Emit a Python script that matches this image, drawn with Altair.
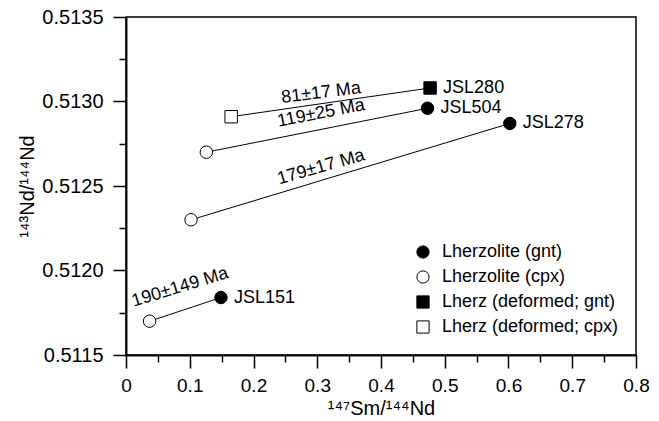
import altair as alt
import pandas as pd

samples = ["JSL280", "JSL504", "JSL278", "JSL151"]
gnt_x = [0.477, 0.473, 0.602, 0.149]
gnt_y = [0.51308, 0.51296, 0.51287, 0.51184]
cpx_x = [0.165, 0.126, 0.102, 0.037]
cpx_y = [0.51291, 0.51270, 0.51230, 0.51170]
gnt_kind = ["Lherz (deformed; gnt)", "Lherzolite (gnt)", "Lherzolite (gnt)", "Lherzolite (gnt)"]
cpx_kind = ["Lherz (deformed; cpx)", "Lherzolite (cpx)", "Lherzolite (cpx)", "Lherzolite (cpx)"]
kinds = ["Lherzolite (gnt)", "Lherzolite (cpx)", "Lherz (deformed; gnt)", "Lherz (deformed; cpx)"]

ages = ["81±17 Ma", "119±25 Ma", "179±17 Ma", "190±149 Ma"]
age_x = [0.306, 0.306, 0.306, 0.085]
age_y = [0.51305, 0.51293, 0.51261, 0.51190]
age_angle = [7, 11, 16, 17]

x_major = [0, 0.1, 0.2, 0.3, 0.4, 0.5, 0.6, 0.7, 0.8]
x_minor = [0.05, 0.15, 0.25, 0.35, 0.45, 0.55, 0.65, 0.75]
y_major = [0.5115, 0.512, 0.5125, 0.513, 0.5135]
y_minor = [0.51175, 0.51225, 0.51275, 0.51325]

FONT = "Liberation Sans"

pts = pd.DataFrame({
    "sample": samples + samples,
    "x": gnt_x + cpx_x,
    "y": gnt_y + cpx_y,
    "kind": gnt_kind + cpx_kind,
})
gnt = pd.DataFrame({"sample": samples, "x": gnt_x, "y": gnt_y})
age_df = pd.DataFrame({"label": ages, "x": age_x, "y": age_y,
                       "rot": [360 - a for a in age_angle]})

xscale = alt.Scale(domain=[0, 0.8], nice=False, zero=False)
yscale = alt.Scale(domain=[0.5115, 0.5135], nice=False, zero=False)

xaxis = alt.Axis(
    orient="bottom", values=x_major, title="¹⁴⁷Sm/¹⁴⁴Nd", titleFont=FONT, titleFontSize=20,
    titleFontWeight="normal", titleColor="black", titlePadding=3,
    labelFont=FONT, labelFontSize=19, labelColor="black", labelPadding=8,
    labelExpr="datum.value == 0 ? '0' : format(datum.value, '.1f')",
    labelOverlap=False, labelFlush=False, grid=False,
    tickSize=13, tickColor="black", tickWidth=1.5, domainColor="black", domainWidth=1.5,
)
yaxis = alt.Axis(
    orient="left", values=y_major, title="¹⁴³Nd/¹⁴⁴Nd", titleFont=FONT, titleFontSize=20,
    titleFontWeight="normal", titleColor="black", titlePadding=4,
    labelFont=FONT, labelFontSize=20, labelColor="black", labelPadding=10,
    format=".4f", labelOverlap=False, labelFlush=False, grid=False,
    tickSize=13, tickColor="black", tickWidth=1.5, domainColor="black", domainWidth=1.5,
)
xaxis_minor = alt.Axis(
    orient="bottom", values=x_minor, title=None, labels=False, grid=False,
    tickSize=7, tickColor="black", tickWidth=1.5, domainColor="black", domainWidth=1.5,
)
yaxis_minor = alt.Axis(
    orient="left", values=y_minor, title=None, labels=False, grid=False,
    tickSize=7, tickColor="black", tickWidth=1.5, domainColor="black", domainWidth=1.5,
)

base = alt.Chart(pts)

minor = base.mark_point(opacity=0).encode(
    x=alt.X("x:Q", scale=xscale, axis=xaxis_minor),
    y=alt.Y("y:Q", scale=yscale, axis=yaxis_minor),
)

lines = base.mark_line(color="black", strokeWidth=1).encode(
    x=alt.X("x:Q", scale=xscale, axis=xaxis),
    y=alt.Y("y:Q", scale=yscale, axis=yaxis),
    detail="sample:N",
    order="x:Q",
)

legend = alt.Legend(
    title=None, orient="none", legendX=288, legendY=226, padding=0,
    labelFont=FONT, labelFontSize=18, labelColor="black", labelOffset=10, labelLimit=0,
    rowPadding=7, symbolSize=150, symbolStrokeColor="black", symbolStrokeWidth=1,
)

points = base.mark_point(filled=True, strokeWidth=1, size=155, opacity=1).encode(
    x=alt.X("x:Q", scale=xscale, axis=None),
    y=alt.Y("y:Q", scale=yscale, axis=None),
    shape=alt.Shape("kind:N", scale=alt.Scale(domain=kinds, range=["circle", "circle", "square", "square"]), legend=legend),
    fill=alt.Fill("kind:N", scale=alt.Scale(domain=kinds, range=["black", "white", "black", "white"]), legend=legend),
    stroke=alt.Stroke("kind:N", scale=alt.Scale(domain=kinds, range=["black", "black", "black", "black"]), legend=legend),
)

names = alt.Chart(gnt).mark_text(align="left", baseline="middle", dx=13, font=FONT, fontSize=18, color="black").encode(
    x=alt.X("x:Q", scale=xscale, axis=None),
    y=alt.Y("y:Q", scale=yscale, axis=None),
    text="sample:N",
)

age_text = alt.Chart(age_df).mark_text(align="center", baseline="middle", font=FONT, fontSize=18, color="black").encode(
    x=alt.X("x:Q", scale=xscale, axis=None),
    y=alt.Y("y:Q", scale=yscale, axis=None),
    text="label:N",
    angle=alt.Angle("rot:Q", scale=None),
)

chart = alt.layer(minor, lines, points, names, age_text).resolve_axis(
    x="independent", y="independent"
).properties(
    width=510, height=338,
    padding={"left": 126, "top": 17, "right": 23, "bottom": 67},
    autosize=alt.AutoSizeParams(type="none"),
    background="white",
).configure_view(stroke="black", strokeWidth=1.5)

chart.save("out.html", embed_options={"renderer": "svg", "actions": False})
